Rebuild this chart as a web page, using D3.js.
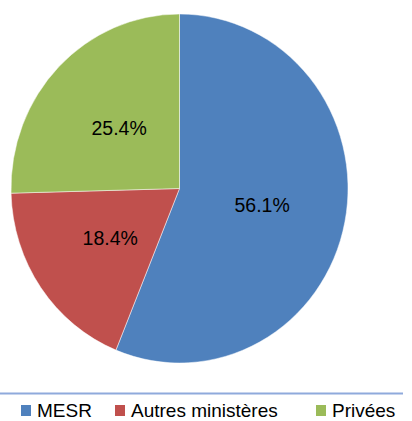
<!DOCTYPE html>
<html><head><meta charset="utf-8">
<script src="https://cdn.jsdelivr.net/npm/d3@7"></script>
<style>html,body{margin:0;padding:0;background:#fff;overflow:hidden}</style>
</head><body>
<script>
const categories = ["MESR", "Autres ministères", "Privées"];
const values = [56.1, 18.4, 25.4];
const labels = ["56.1%", "18.4%", "25.4%"];
const colors = ["#4F81BD", "#C0504D", "#9BBB59"];

const W = 412, H = 421;
const svg = d3.select("body").append("svg").attr("width", W).attr("height", H);

const cx = 179.5, cy = 188.5, rx = 168.5, ry = 174.5;
const pie = d3.pie().sort(null).value(d => d)(values);
const arc = d3.arc().innerRadius(0).outerRadius(rx);

const g = svg.append("g").attr("transform", `translate(${cx},${cy}) scale(1,${ry/rx})`);
g.selectAll("path").data(pie).join("path")
  .attr("d", arc)
  .attr("fill", (d, i) => colors[i])
  .attr("stroke", "#ffffff").attr("stroke-opacity", 0.6).attr("stroke-width", 0.8);

svg.append("g").selectAll("text").data(pie).join("text")
  .attr("x", d => cx + arc.centroid(d)[0])
  .attr("y", d => cy + arc.centroid(d)[1] * ry / rx + 7)
  .attr("text-anchor", "middle")
  .attr("font-family", "Liberation Sans, Arial, sans-serif")
  .attr("font-size", 19.5)
  .attr("fill", "#000")
  .text((d, i) => labels[i]);

// separator line
svg.append("line").attr("x1", 0).attr("x2", 403).attr("y1", 393.5).attr("y2", 393.5)
  .attr("stroke", "#8FAADC").attr("stroke-width", 2);

// legend
const legX = [21, 115, 316];
const leg = svg.append("g").selectAll("g").data(categories).join("g")
  .attr("transform", (d, i) => `translate(${legX[i]},0)`);
leg.append("rect").attr("x", 0).attr("y", 405).attr("width", 10).attr("height", 11)
  .attr("fill", (d, i) => colors[i]);
leg.append("text").attr("x", 16).attr("y", 416.5)
  .attr("font-family", "Liberation Sans, Arial, sans-serif")
  .attr("font-size", 19)
  .attr("fill", "#000")
  .text(d => d);
</script>
</body></html>
